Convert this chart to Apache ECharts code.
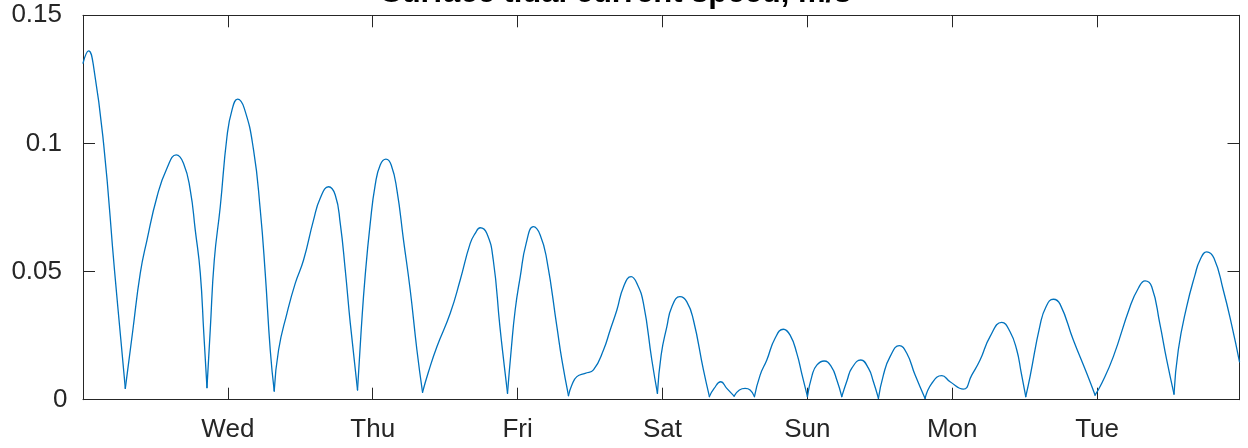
<!DOCTYPE html>
<html><head><meta charset="utf-8">
<script src="https://cdn.jsdelivr.net/npm/echarts@6/dist/echarts.min.js"></script>
<style>html,body{margin:0;padding:0;background:#fff}#c{width:1248px;height:448px}</style>
</head><body><div id="c"></div>
<script>
// time in hours since Tuesday 00:00
const hours = [0, 0.93, 1.76, 3.41, 5.23, 6.26, 7.01,
8.25, 9.49, 10.6, 12.26, 13.91, 15.45, 16.66, 17.77, 18.6, 19.43, 20.01, 20.54,
21.08, 21.75, 22.74, 23.85, 24.68, 25.61, 26.72, 28.26, 29.37, 30.19, 31.02, 31.68,
32.4, 33.79, 35.16, 36.54, 38.19, 39.3, 40.68, 41.79, 42.62, 43.45, 44.28, 45.48,
46.09, 46.76, 47.59, 48.41, 49.24, 50.19, 51.06, 52.01, 53.1, 54.21, 55.32, 56.25,
57.24, 58.63, 60.84, 62.49, 64.15, 64.98, 65.8, 66.91, 67.97, 69.07, 69.78, 70.33,
70.94, 71.6, 72.44, 73.42, 74.63, 75.74, 76.85, 78.51, 79.34, 80.43,
80.99, 81.82, 83.2, 84.57, 86.23, 87.34, 88.45, 89.56, 90.81, 91.76, 92.85, 94.24, 95.17,
95.78, 96.73, 97.56, 98.9, 100.04, 101.13, 102.79, 103.78,
104.56, 105.67, 106.66, 107.87, 108.75, 109.7, 110.52, 111.24,
112.18, 113.29, 114.66, 116.04, 117.15, 118.26, 119.14, 120.02,
120.8, 121.57, 122.78, 123.97, 124.89, 125.71,
126.61, 127.37, 128.86, 130.12, 130.95, 131.78,
132.6, 133.71, 135.25, 136.48, 137.86, 139.51,
140.62, 142.28, 143.65, 145.85, 147.24, 148.62, 150.27, 152.21, 153.59, 154.7, 155.41, 156.19,
156.9, 158.56, 159.55, 160.76, 161.87, 164.07, 166.29, 167.67,
168.78, 170.7, 173.46, 174.84, 175.95, 177.06, 178.39, 179.54, 180.75,
181.46, 182.85, 184.23, 185.06, 186.17, 187.38, 188.91, 190.31, 191.6];

// surface tidal current speed, m/s
const speed = [0.1313, 0.1361, 0.1299, 0.1000, 0.0502, 0.0237, 0.0044,
0.0270, 0.0494, 0.0623, 0.0792, 0.0903, 0.0955, 0.0922, 0.0818, 0.0662, 0.0494, 0.0260, 0.0047,
0.0272, 0.0545, 0.0753, 0.1026, 0.1130, 0.1173, 0.1137, 0.0974, 0.0740, 0.0494, 0.0194, 0.0034,
0.0194, 0.0337, 0.0454, 0.0545, 0.0701, 0.0786, 0.0831, 0.0799, 0.0688, 0.0506, 0.0299, 0.0038,
0.0272, 0.0487, 0.0689, 0.0838, 0.0916, 0.0939, 0.0916, 0.0818, 0.0623, 0.0428, 0.0194, 0.0029,
0.0109, 0.0207, 0.0337, 0.0467, 0.0610, 0.0649, 0.0671, 0.0649, 0.0545, 0.0285, 0.0135, 0.0025,
0.0194, 0.0350, 0.0480, 0.0610, 0.0675, 0.0643, 0.0545, 0.0285, 0.0155, 0.0016,
0.0057, 0.0090, 0.0103, 0.0116, 0.0194, 0.0272, 0.0350, 0.0441, 0.0480, 0.0454, 0.0376, 0.0155, 0.0025,
0.0174, 0.0285, 0.0363, 0.0402, 0.0382, 0.0311, 0.0116, 0.0012,
0.0044, 0.0070, 0.0044, 0.0014, 0.0038, 0.0044, 0.0038, 0.0012,
0.0096, 0.0155, 0.0240, 0.0275, 0.0252, 0.0181, 0.0096, 0.0012,
0.0096, 0.0135, 0.0151, 0.0129, 0.0077, 0.0012,
0.0077, 0.0123, 0.0155, 0.0123, 0.0070, 0.0005,
0.0096, 0.0168, 0.0211, 0.0181, 0.0096, 0.0005,
0.0064, 0.0094, 0.0070, 0.0041, 0.0096, 0.0155, 0.0246, 0.0302, 0.0265, 0.0194, 0.0109, 0.0012,
0.0090, 0.0291, 0.0363, 0.0392, 0.0373, 0.0233, 0.0103, 0.0018,
0.0064, 0.0168, 0.0363, 0.0435, 0.0464, 0.0441, 0.0298, 0.0155, 0.0022,
0.0194, 0.0363, 0.0487, 0.0545, 0.0577, 0.0552, 0.0428, 0.0291, 0.0148];

// times of the sharp slack-water minima (where the speed curve has a cusp)
const cuspHours = [7.01, 20.54, 31.68, 45.48, 56.25, 70.33, 80.43, 95.17, 103.78,
  107.87, 111.24, 120.02, 125.71, 131.78, 139.51, 156.19, 167.67, 180.75];

const dayLabels = ['Tue', 'Wed', 'Thu', 'Fri', 'Sat', 'Sun', 'Mon', 'Tue'];
const yTickLabels = ['0', '0.05', '0.1', '0.15'];
const titleText = 'Surface tidal current speed, m/s';

const axisColor = '#262626';
const font = 'Liberation Sans, Arial, Helvetica, sans-serif';

function xLabel(v) {
  const k = Math.round(v / 24);
  if (Math.abs(v - k * 24) > 1e-6 || k <= 0 || k >= dayLabels.length) return '';
  return dayLabels[k];
}
function yLabel(v) {
  const k = Math.round(v / 0.05);
  const t = yTickLabels[k] || '';
  return k === 0 ? '{zero|' + t + '}' : t;
}

// split the curve into lobes between cusps so each cusp stays sharp
const lobes = [];
let cur = [];
hours.forEach((h, i) => {
  cur.push([h, speed[i]]);
  if (cuspHours.indexOf(h) >= 0) { lobes.push(cur); cur = [[h, speed[i]]]; }
});
if (cur.length > 1) lobes.push(cur);

function axisLine() { return { show: true, onZero: false, lineStyle: { color: axisColor, width: 1 } }; }
function axisTick() { return { show: true, inside: true, length: 12, lineStyle: { color: axisColor, width: 1 } }; }

const chart = echarts.init(document.getElementById('c'), null, { renderer: 'canvas' });
chart.setOption({
  animation: false,
  backgroundColor: '#ffffff',
  title: {
    text: titleText, left: 376, top: -27,
    textStyle: { fontFamily: font, fontSize: 31, fontWeight: 'bold', color: '#000' }
  },
  grid: { left: 83, right: 8.5, top: 15.3, bottom: 48.3, containLabel: false },
  xAxis: [
    { type: 'value', position: 'bottom', min: 0, max: 191.6, interval: 24,
      axisLine: axisLine(), axisTick: axisTick(), splitLine: { show: false },
      axisLabel: { formatter: xLabel, fontFamily: font, fontSize: 26, color: axisColor, margin: 17, showMaxLabel: false, showMinLabel: false } },
    { type: 'value', position: 'top', min: 0, max: 191.6, interval: 24,
      axisLine: axisLine(), axisTick: axisTick(), splitLine: { show: false },
      axisLabel: { show: false } }
  ],
  yAxis: [
    { type: 'value', position: 'left', min: 0, max: 0.15, interval: 0.05,
      axisLine: axisLine(), axisTick: axisTick(), splitLine: { show: false },
      axisLabel: { formatter: yLabel, fontFamily: font, fontSize: 26, color: axisColor, margin: 21,
        rich: { zero: { fontFamily: font, fontSize: 26, color: axisColor, width: 9, align: 'left' } } } },
    { type: 'value', position: 'right', min: 0, max: 0.15, interval: 0.05,
      axisLine: axisLine(), axisTick: axisTick(), splitLine: { show: false },
      axisLabel: { show: false } }
  ],
  series: lobes.map(seg => ({
    type: 'line',
    xAxisIndex: 0, yAxisIndex: 0,
    data: seg,
    showSymbol: false,
    smooth: 0.5,
    lineStyle: { color: '#0072BD', width: 1.3, cap: 'round', join: 'round' },
    clip: true
  }))
});
</script>
</body></html>
